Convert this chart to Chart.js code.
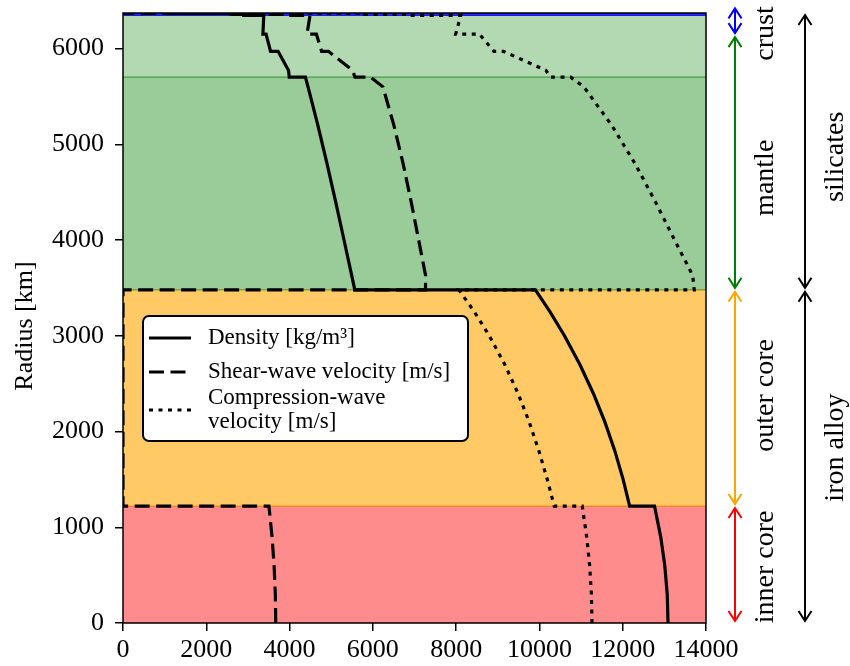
<!DOCTYPE html>
<html>
<head>
<meta charset="utf-8">
<script src="https://cdn.jsdelivr.net/npm/chart.js@4.4.1/dist/chart.umd.min.js"></script>
<style>
  html, body { margin: 0; padding: 0; background: #fff; }
</style>
</head>
<body>
<canvas id="myChart" width="850" height="666"></canvas>
<script>
// PREM-style profile, centre to surface; repeated radii mark the discontinuities
const radiusKm = [0, 300, 600, 900, 1221.5, 1221.5, 1500, 1800, 2100, 2400, 2700, 3000, 3250, 3480,
  3480, 3630, 4000, 4400, 4800, 5200, 5600, 5701, 5701, 5771, 5971, 5971, 6151, 6151, 6346.6,
  6346.6, 6356, 6356, 6368, 6368, 6371];
const density = [13088.5, 13068.9, 13010.1, 12912.1, 12763.6, 12166.3, 12009.9, 11809.0, 11571.2, 11293.0, 10970.9, 10601.5, 10255.1, 9903.4,
  5566.5, 5491.5, 5307.2, 5105.9, 4897.8, 4678.4, 4443.2, 4380.7, 3992.1, 3975.8, 3723.8, 3543.3, 3435.8, 3359.5, 3380.8,
  2900, 2900, 2600, 2600, 1020, 1020];
const shearVelocity = [3667.8, 3657.9, 3628.4, 3579.0, 3504.3, 0, 0, 0, 0, 0, 0, 0, 0, 0,
  7264.7, 7266.0, 7099.6, 6919.5, 6725.4, 6503.7, 6240.4, 5945.1, 5570.2, 5516.0, 4932.5, 4769.9, 4643.9, 4418.9, 4491.0,
  3900, 3900, 3200, 3200, 0, 0];
const compressionVelocity = [11262.2, 11248.1, 11205.8, 11135.2, 11028.3, 10355.7, 10187.5, 9985.6, 9754.0, 9484.1, 9167.6, 8795.7, 8437.6, 8064.8,
  13716.6, 13680.4, 13246.5, 12783.7, 12293.2, 11733.6, 11065.6, 10751.3, 10266.2, 10157.8, 9133.9, 8905.3, 8558.9, 7989.7, 8110.6,
  6800, 6800, 5800, 5800, 1450, 1450];

const xTicks = [0, 2000, 4000, 6000, 8000, 10000, 12000, 14000];
const yTicks = [0, 1000, 2000, 3000, 4000, 5000, 6000];

// shaded layers
const bandBottom = [0, 1221.5, 3480, 5701, 6346.6];
const bandTop = [1221.5, 3480, 5701, 6346.6, 6371];
const bandColors = ['rgba(255,0,0,0.45)', 'rgba(255,165,0,0.6)', 'rgba(0,128,0,0.4)', 'rgba(0,128,0,0.3)', 'rgba(0,0,255,0.8)'];

// annotations to the right of the axes
const shellNames = ['inner core', 'outer core', 'mantle', 'crust'];
const shellFrom = [0, 1221.5, 3480, 6140];
const shellTo = [1221.5, 3480, 6140, 6440];
const shellLabelAt = [586, 2377, 4650, 6157];
const shellColors = ['#ff0000', '#ffa500', '#008000', '#0000ff'];
const groupNames = ['iron alloy', 'silicates'];
const groupFrom = [0, 3480];
const groupTo = [3480, 6371];
const groupLabelAt = [1832, 4869];

const serif = '"Liberation Serif", "Times New Roman", serif';
Chart.defaults.font.family = serif;
Chart.defaults.color = '#000';

const dashed = [15, 6.5];
const dotted = [4, 5.5];

function profile(values) {
  return radiusKm.map((r, i) => ({ x: values[i], y: r }));
}

const bandsPlugin = {
  id: 'bands',
  beforeDatasetsDraw(chart) {
    const { ctx, chartArea: a, scales: { y } } = chart;
    ctx.save();
    ctx.beginPath();
    ctx.rect(a.left, a.top, a.right - a.left, a.bottom - a.top);
    ctx.clip();
    bandBottom.forEach((b, i) => {
      const y0 = y.getPixelForValue(b);
      const y1 = y.getPixelForValue(bandTop[i]);
      ctx.fillStyle = bandColors[i];
      ctx.fillRect(a.left, y1, a.right - a.left, y0 - y1);
      ctx.strokeStyle = bandColors[i];
      ctx.lineWidth = 1.2;
      ctx.beginPath();
      ctx.moveTo(a.left, y0); ctx.lineTo(a.right, y0);
      ctx.moveTo(a.left, y1); ctx.lineTo(a.right, y1);
      ctx.stroke();
    });
    ctx.restore();
  }
};

function drawArrow(ctx, x, yA, yB, color) {
  const top = Math.min(yA, yB) + 2, bot = Math.max(yA, yB) - 2;
  ctx.strokeStyle = color;
  ctx.lineWidth = 2;
  ctx.beginPath();
  ctx.moveTo(x, top); ctx.lineTo(x, bot);
  ctx.moveTo(x - 6.5, top + 10); ctx.lineTo(x, top); ctx.lineTo(x + 6.5, top + 10);
  ctx.moveTo(x - 6.5, bot - 10); ctx.lineTo(x, bot); ctx.lineTo(x + 6.5, bot - 10);
  ctx.stroke();
}

function drawVertText(ctx, text, x, y, size) {
  ctx.save();
  ctx.translate(x, y);
  ctx.rotate(-Math.PI / 2);
  ctx.font = size + 'px ' + serif;
  ctx.fillStyle = '#000';
  ctx.textAlign = 'center';
  ctx.textBaseline = 'middle';
  ctx.fillText(text, 0, 0);
  ctx.restore();
}

const framePlugin = {
  id: 'frame',
  afterDatasetsDraw(chart) {
    const { ctx, chartArea: a } = chart;
    ctx.save();
    ctx.strokeStyle = '#000';
    ctx.lineWidth = 1.5;
    ctx.strokeRect(a.left, a.top, a.right - a.left, a.bottom - a.top);

    // legend box
    const lx = a.left + 20, ly = a.top + 303, lw = 325, lh = 125;
    ctx.fillStyle = '#fff';
    ctx.lineWidth = 2;
    ctx.beginPath();
    ctx.roundRect(lx, ly, lw, lh, 6);
    ctx.fill();
    ctx.stroke();
    const entries = [
      { dash: [], lines: ['Density [kg/m\u00b3]'], y: 22 },
      { dash: dashed, lines: ['Shear-wave velocity [m/s]'], y: 56 },
      { dash: dotted, lines: ['Compression-wave', 'velocity [m/s]'], y: 94 }
    ];
    ctx.font = '23px ' + serif;
    ctx.textBaseline = 'middle';
    ctx.textAlign = 'left';
    entries.forEach(e => {
      ctx.setLineDash(e.dash);
      ctx.lineWidth = 3.2;
      ctx.lineCap = 'butt';
      ctx.beginPath();
      ctx.moveTo(lx + 6, ly + e.y);
      ctx.lineTo(lx + 48, ly + e.y);
      ctx.stroke();
      ctx.setLineDash([]);
      ctx.fillStyle = '#000';
      if (e.lines.length === 1) {
        ctx.fillText(e.lines[0], lx + 65, ly + e.y);
      } else {
        ctx.fillText(e.lines[0], lx + 65, ly + e.y - 12);
        ctx.fillText(e.lines[1], lx + 65, ly + e.y + 12);
      }
    });
    ctx.restore();
  },
  afterDraw(chart) {
    const { ctx, chartArea: a, scales: { y } } = chart;
    ctx.save();
    drawVertText(ctx, 'Radius [km]', 25, (a.top + a.bottom) / 2 + 8, 26);
    shellNames.forEach((name, i) => {
      drawArrow(ctx, a.right + 29, y.getPixelForValue(shellFrom[i]), y.getPixelForValue(shellTo[i]), shellColors[i]);
      drawVertText(ctx, name, a.right + 60, y.getPixelForValue(shellLabelAt[i]), 28);
    });
    groupNames.forEach((name, i) => {
      drawArrow(ctx, a.right + 99, y.getPixelForValue(groupFrom[i]), y.getPixelForValue(groupTo[i]), '#000');
      drawVertText(ctx, name, a.right + 130, y.getPixelForValue(groupLabelAt[i]), 28);
    });
    ctx.restore();
  }
};

const ctx = document.getElementById('myChart').getContext('2d');
const myChart = new Chart(ctx, {
  type: 'scatter',
  data: {
    datasets: [
      { label: 'Density [kg/m\u00b3]', data: profile(density), borderDash: [] },
      { label: 'Shear-wave velocity [m/s]', data: profile(shearVelocity), borderDash: dashed },
      { label: 'Compression-wave velocity [m/s]', data: profile(compressionVelocity), borderDash: dotted }
    ].map(d => Object.assign(d, {
      showLine: true,
      pointRadius: 0,
      borderColor: '#000',
      borderWidth: 3.2,
      borderCapStyle: 'butt',
      borderJoinStyle: 'miter',
      tension: 0
    }))
  },
  options: {
    responsive: false,
    animation: false,
    layout: { padding: { left: 0, top: 13, right: 144, bottom: 0 } },
    plugins: { legend: { display: false }, tooltip: { enabled: false } },
    scales: {
      x: {
        type: 'linear',
        min: 0,
        max: 14000,
        afterBuildTicks: s => { s.ticks = xTicks.map(v => ({ value: v })); },
        afterFit: s => { s.height = 43; s.paddingLeft = 0; s.paddingRight = 0; },
        ticks: { font: { size: 26 }, padding: 4, maxRotation: 0, callback: v => String(v) },
        grid: { drawOnChartArea: false, drawTicks: true, tickLength: 8, color: '#000', lineWidth: 1.5 },
        border: { display: false }
      },
      y: {
        type: 'linear',
        min: 0,
        max: 6371,
        afterBuildTicks: s => { s.ticks = yTicks.map(v => ({ value: v })); },
        afterFit: s => { s.width = 123; s.paddingTop = 0; s.paddingBottom = 0; },
        ticks: { font: { size: 26 }, padding: 11, callback: v => String(v) },
        grid: { drawOnChartArea: false, drawTicks: true, tickLength: 8, color: '#000', lineWidth: 1.5 },
        border: { display: false }
      }
    }
  },
  plugins: [bandsPlugin, framePlugin]
});
</script>
</body>
</html>
